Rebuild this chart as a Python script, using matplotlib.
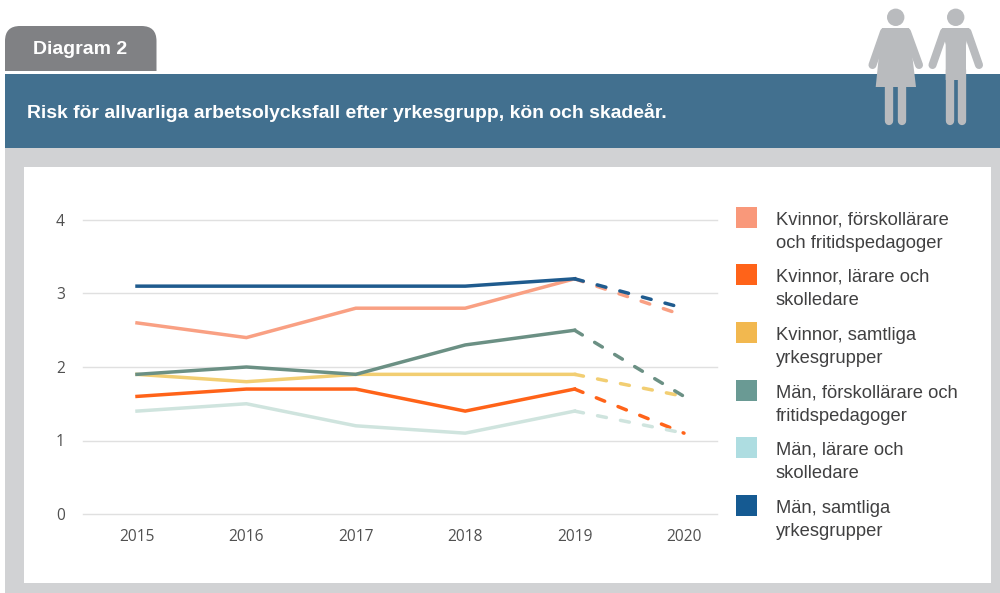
import matplotlib
matplotlib.use("Agg")
import matplotlib.pyplot as plt
from matplotlib.patches import Rectangle, Circle, Polygon, FancyBboxPatch

W, H = 1000, 593

years = ["2015", "2016", "2017", "2018", "2019", "2020"]
y_ticks = [0, 1, 2, 3, 4]

kvinnor_forskol = [2.6, 2.4, 2.8, 2.8, 3.2, 2.7]
kvinnor_larare = [1.6, 1.7, 1.7, 1.4, 1.7, 1.1]
kvinnor_samtliga = [1.9, 1.8, 1.9, 1.9, 1.9, 1.6]
man_forskol = [1.9, 2.0, 1.9, 2.3, 2.5, 1.6]
man_larare = [1.4, 1.5, 1.2, 1.1, 1.4, 1.1]
man_samtliga = [3.1, 3.1, 3.1, 3.1, 3.2, 2.8]

series = [kvinnor_forskol, kvinnor_larare, kvinnor_samtliga,
          man_forskol, man_larare, man_samtliga]
line_colors = ["#F9A083", "#FF6319", "#F2CE72", "#6B9084", "#CFE4DE", "#1F5B8E"]
legend_colors = ["#F9987A", "#FF6319", "#F2B84F", "#6A9A94", "#AEDDE1", "#155A92"]
legend_labels = ["Kvinnor, förskollärare\noch fritidspedagoger",
                 "Kvinnor, lärare och\nskolledare",
                 "Kvinnor, samtliga\nyrkesgrupper",
                 "Män, förskollärare och\nfritidspedagoger",
                 "Män, lärare och\nskolledare",
                 "Män, samtliga\nyrkesgrupper"]

plt.rcParams["font.family"] = ["Liberation Sans", "DejaVu Sans"]

fig = plt.figure(figsize=(W / 100, H / 100), dpi=100)

# background layer in pixel coordinates
bg = fig.add_axes([0, 0, 1, 1])
bg.set_xlim(0, W)
bg.set_ylim(H, 0)
bg.axis("off")

# tab with rounded top corners, lower part hidden by the strip and the banner
bg.add_patch(FancyBboxPatch((5, 26), 151.5, 60, boxstyle="round,pad=0,rounding_size=15",
                            fc="#808184", ec="none"))
bg.add_patch(Rectangle((0, 71), 300, 3, fc="white", ec="none"))

bg.add_patch(Rectangle((5, 148), 995, 445, fc="#D1D2D4", ec="none"))
bg.add_patch(Rectangle((24, 167), 967, 416, fc="white", ec="none"))
bg.add_patch(Rectangle((5, 74), 995, 74, fc="#42708F", ec="none"))

bg.text(33, 49, "Diagram 2", color="white", fontsize=14, fontweight="bold", va="center")
bg.text(27, 112, "Risk för allvarliga arbetsolycksfall efter yrkesgrupp, kön och skadeår.",
        color="white", fontsize=13.95, fontweight="bold", va="center")

# people icons
icon = "#B9BBBE"
bg.add_patch(Circle((895.7, 17.3), 8.7, fc=icon, ec="none"))
bg.add_patch(Polygon([(882, 28), (909, 28), (911, 45), (916, 87), (875.7, 87), (880, 45)],
                     fc=icon, ec="none"))
bg.plot([884, 872.5], [32, 65], color=icon, lw=5.8, solid_capstyle="round")
bg.plot([907, 919], [32, 65], color=icon, lw=5.8, solid_capstyle="round")
bg.plot([889, 889], [85, 121], color=icon, lw=6, solid_capstyle="round")
bg.plot([901.5, 901.5], [85, 121], color=icon, lw=6, solid_capstyle="round")

bg.add_patch(Circle((955.7, 17.3), 8.7, fc=icon, ec="none"))
bg.add_patch(Polygon([(942, 28), (969, 28), (966, 45), (966, 80), (945.7, 80), (945.7, 45)],
                     fc=icon, ec="none"))
bg.plot([944, 932.5], [32, 65], color=icon, lw=5.8, solid_capstyle="round")
bg.plot([967.5, 979], [32, 65], color=icon, lw=5.8, solid_capstyle="round")
bg.plot([949.8, 949.8], [70, 121], color=icon, lw=6, solid_capstyle="round")
bg.plot([962, 962], [70, 121], color=icon, lw=6, solid_capstyle="round")

# legend
legend_y = [207, 264, 322, 380, 437, 495]
for top, col, lab in zip(legend_y, legend_colors, legend_labels):
    bg.add_patch(Rectangle((736, top), 21, 21, fc=col, ec="none"))
    bg.text(776, top + 25, lab, color="#404041", fontsize=13.2, va="center", linespacing=1.5)

# chart
left, right, top, bottom = 83, 717, 220, 514
ax = fig.add_axes([left / W, 1 - bottom / H, (right - left) / W, (bottom - top) / H])
ax.patch.set_alpha(0)
step = (684 - 137) / 5
ax.set_xlim(-(137 - left) / step, 5 + (right - 684) / step)
ax.set_ylim(0, 4)
xs = list(range(len(years)))

for vals, col in zip(series, line_colors):
    ax.plot(xs[:5], vals[:5], color=col, lw=2.5, solid_joinstyle="miter", clip_on=False, zorder=3)
    ax.plot(xs[4:], vals[4:], color=col, lw=2.5, linestyle=(0, (2.6, 4.14)),
            dash_capstyle="round", clip_on=False, zorder=3)

ax.set_xticks(xs)
ax.set_xticklabels(years)
ax.set_yticks(y_ticks)
ax.tick_params(length=0, labelsize=11.2, labelcolor="#505050", labelfontfamily="Open Sans")
ax.tick_params(axis="x", pad=11)
ax.tick_params(axis="y", pad=13)
ax.grid(axis="y", color="#E0E0E0", lw=1, clip_on=False)
ax.set_axisbelow(True)
for s in ax.spines.values():
    s.set_visible(False)

fig.savefig("out.png", dpi=100)
